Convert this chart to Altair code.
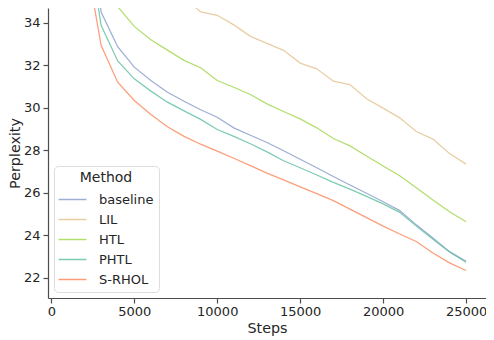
import altair as alt
import pandas as pd

steps = [2000, 3000, 4000, 5000, 6000, 7000, 8000, 9000, 10000, 11000, 12000, 13000,
         14000, 15000, 16000, 17000, 18000, 19000, 20000, 21000, 22000, 23000, 24000, 25000]

baseline = [41.0, 34.5, 32.87, 31.91, 31.28, 30.73, 30.3, 29.9, 29.55, 29.05, 28.7, 28.36,
            27.97, 27.57, 27.17, 26.76, 26.36, 25.97, 25.57, 25.15, 24.48, 23.86, 23.22, 22.76]
lil = [48.0, 44.0, 41.0, 39.0, 37.4, 36.2, 35.2, 34.51, 34.35, 33.9, 33.36, 33.03,
       32.7, 32.1, 31.83, 31.25, 31.09, 30.42, 29.98, 29.52, 28.88, 28.52, 27.84, 27.34]
htl = [45.0, 38.1, 34.76, 33.83, 33.2, 32.71, 32.23, 31.88, 31.28, 30.96, 30.62, 30.18,
       29.82, 29.47, 29.05, 28.55, 28.2, 27.72, 27.25, 26.79, 26.23, 25.65, 25.1, 24.63]
phtl = [38.9, 33.88, 32.2, 31.36, 30.78, 30.26, 29.85, 29.45, 28.97, 28.65, 28.3, 27.92,
        27.5, 27.17, 26.83, 26.48, 26.16, 25.82, 25.47, 25.07, 24.42, 23.8, 23.2, 22.72]
srhol = [37.4, 32.94, 31.2, 30.34, 29.68, 29.1, 28.65, 28.28, 27.95, 27.62, 27.27, 26.92,
         26.6, 26.27, 25.95, 25.62, 25.22, 24.82, 24.42, 24.05, 23.7, 23.15, 22.69, 22.33]

methods = ["baseline", "LIL", "HTL", "PHTL", "S-RHOL"]
colors = ["#8da0cb", "#e5c494", "#a6d854", "#66c2a5", "#fc8d62"]
series = [baseline, lil, htl, phtl, srhol]

x_ticks = [0, 5000, 10000, 15000, 20000, 25000]
y_ticks = [22, 24, 26, 28, 30, 32, 34]

rows = []
for m, vals in zip(methods, series):
    for s, v in zip(steps, vals):
        rows.append({"Steps": s, "Perplexity": v, "Method": m})
df = pd.DataFrame(rows)

font = "DejaVu Sans"
text_color = "#262626"

chart = alt.Chart(df).mark_line(strokeWidth=1.25, opacity=0.85, clip=True).encode(
    x=alt.X("Steps:Q",
            scale=alt.Scale(domain=[-200, 26200], nice=False, zero=False),
            axis=alt.Axis(values=x_ticks, format="d", grid=False, title="Steps",
                          labelFontSize=13, titleFontSize=14.3, labelPadding=2,
                          titlePadding=3, tickSize=5, labelFlush=False)),
    y=alt.Y("Perplexity:Q",
            scale=alt.Scale(domain=[21.035, 34.695], nice=False, zero=False),
            axis=alt.Axis(values=y_ticks, grid=False, title="Perplexity",
                          labelFontSize=13, titleFontSize=14.3, labelPadding=3,
                          titlePadding=1, tickSize=5)),
    color=alt.Color("Method:N",
                    scale=alt.Scale(domain=methods, range=colors),
                    sort=methods,
                    legend=alt.Legend(orient="none", legendX=6, legendY=158,
                                      title="Method", titleFontSize=14,
                                      titleFontWeight="normal", titleAnchor="middle",
                                      titleColor=text_color, titlePadding=4,
                                      labelFontSize=13, labelColor=text_color,
                                      symbolType="M-1.47,0L1.47,0", symbolSize=361,
                                      symbolStrokeWidth=1.5, symbolOffset=3,
                                      labelOffset=16, rowPadding=2, padding=5,
                                      strokeColor="#dddddd", fillColor="#ffffff",
                                      cornerRadius=4)),
    detail="Method:N",
    order="Steps:Q",
).properties(
    width=478, height=328,
    autosize=alt.AutoSizeParams(type="fit", contains="padding"),
    padding={"left": 0, "top": 0, "right": 0, "bottom": 0},
).configure_view(
    stroke=None
).configure_axis(
    labelFont=font, titleFont=font, labelColor=text_color, titleColor=text_color,
    titleFontWeight="normal", domainColor="#4d4d4d", tickColor="#4d4d4d",
    domainWidth=1.2, tickWidth=1.2
).configure_legend(
    labelFont=font, titleFont=font
)

chart.save("out.html", embed_options={"renderer": "svg", "actions": False})
